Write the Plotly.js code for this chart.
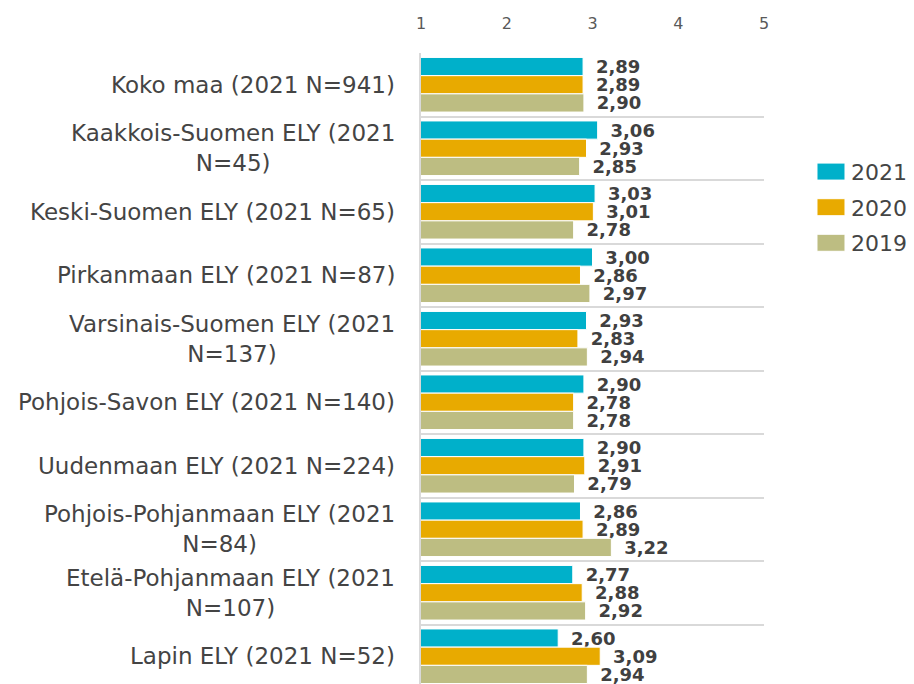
<!DOCTYPE html>
<html>
<head>
<meta charset="utf-8">
<script src="https://cdn.plot.ly/plotly-3.0.1.min.js"></script>
<style>
  html, body { margin: 0; padding: 0; overflow: hidden; background: #fff; }
  #chart { width: 914px; height: 690px; }
</style>
</head>
<body>
<div id="chart"></div>
<script>
const categories = [
  "Koko maa (2021 N=941)",
  "Kaakkois-Suomen ELY (2021<br>N=45)",
  "Keski-Suomen ELY (2021 N=65)",
  "Pirkanmaan ELY (2021 N=87)",
  "Varsinais-Suomen ELY (2021<br>N=137)",
  "Pohjois-Savon ELY (2021 N=140)",
  "Uudenmaan ELY (2021 N=224)",
  "Pohjois-Pohjanmaan ELY (2021<br>N=84)",
  "Etelä-Pohjanmaan ELY (2021<br>N=107)",
  "Lapin ELY (2021 N=52)"
];
const seriesNames = ["2021", "2020", "2019"];
const values2021 = [2.89, 3.06, 3.03, 3.00, 2.93, 2.90, 2.90, 2.86, 2.77, 2.60];
const values2020 = [2.89, 2.93, 3.01, 2.86, 2.83, 2.78, 2.91, 2.89, 2.88, 3.09];
const values2019 = [2.90, 2.85, 2.78, 2.97, 2.94, 2.78, 2.79, 3.22, 2.92, 2.94];
const xTicks = [1, 2, 3, 4, 5];

const colors = ["#00B0CA", "#E8AA00", "#BDBD82"];
const FONT = "DejaVu Sans, Verdana, sans-serif";
const allValues = [values2021, values2020, values2019];

const fmt = v => "\u00A0\u2009" + v.toFixed(2).replace(".", ",");

const traces = allValues.map((vals, i) => ({
  type: "bar",
  orientation: "h",
  name: seriesNames[i],
  legendgroup: "g" + i,
  y: categories,
  x: vals,
  marker: { color: colors[i], line: { color: "#ffffff", width: 1 } },
  text: vals.map(fmt),
  textposition: "outside",
  constraintext: "none",
  cliponaxis: false,
  textfont: { family: FONT, size: 18, color: "#404040", weight: "bold" },
  hoverinfo: "skip"
}));

const annotations = categories.map(c => ({
  xref: "paper", yref: "y",
  x: 0, y: c,
  xanchor: "right", yanchor: "middle",
  xshift: -24,
  align: "center",
  text: c,
  showarrow: false,
  font: { family: FONT, size: 23, color: "#444444" }
}));

const layout = {
  width: 914, height: 690,
  margin: { l: 421, r: 150, t: 53, b: 2 },
  paper_bgcolor: "#ffffff",
  plot_bgcolor: "#ffffff",
  barmode: "group",
  bargap: 0.14,
  bargroupgap: 0,
  showlegend: true,
  legend: {
    x: 1.137, xanchor: "left",
    y: 0.846, yanchor: "top",
    font: { family: FONT, size: 22, color: "#444444" },
    traceorder: "grouped",
    tracegroupgap: 4,
    bgcolor: "rgba(0,0,0,0)"
  },
  xaxis: {
    side: "top",
    range: [1, 5],
    tickvals: xTicks,
    ticktext: xTicks.map(String),
    showgrid: false,
    zeroline: false,
    showline: false,
    ticks: "",
    ticklabelstandoff: 20,
    tickfont: { family: FONT, size: 16, color: "#595959" },
    fixedrange: true
  },
  yaxis: {
    type: "category",
    autorange: "reversed",
    showticklabels: false,
    tickson: "boundaries",
    ticks: "",
    showgrid: true,
    gridcolor: "#d9d9d9",
    gridwidth: 2,
    showline: true,
    linecolor: "#d9d9d9",
    linewidth: 2,
    zeroline: false,
    fixedrange: true
  },
  annotations: annotations,
  font: { family: FONT }
};

Plotly.newPlot("chart", traces, layout, { displayModeBar: false, staticPlot: true }).then(gd => {
  gd.querySelectorAll(".legend .legendpoints path").forEach(p => {
    p.setAttribute("d", "M14,8.5H-14V-8.5H14Z");
  });
});
</script>
</body>
</html>
